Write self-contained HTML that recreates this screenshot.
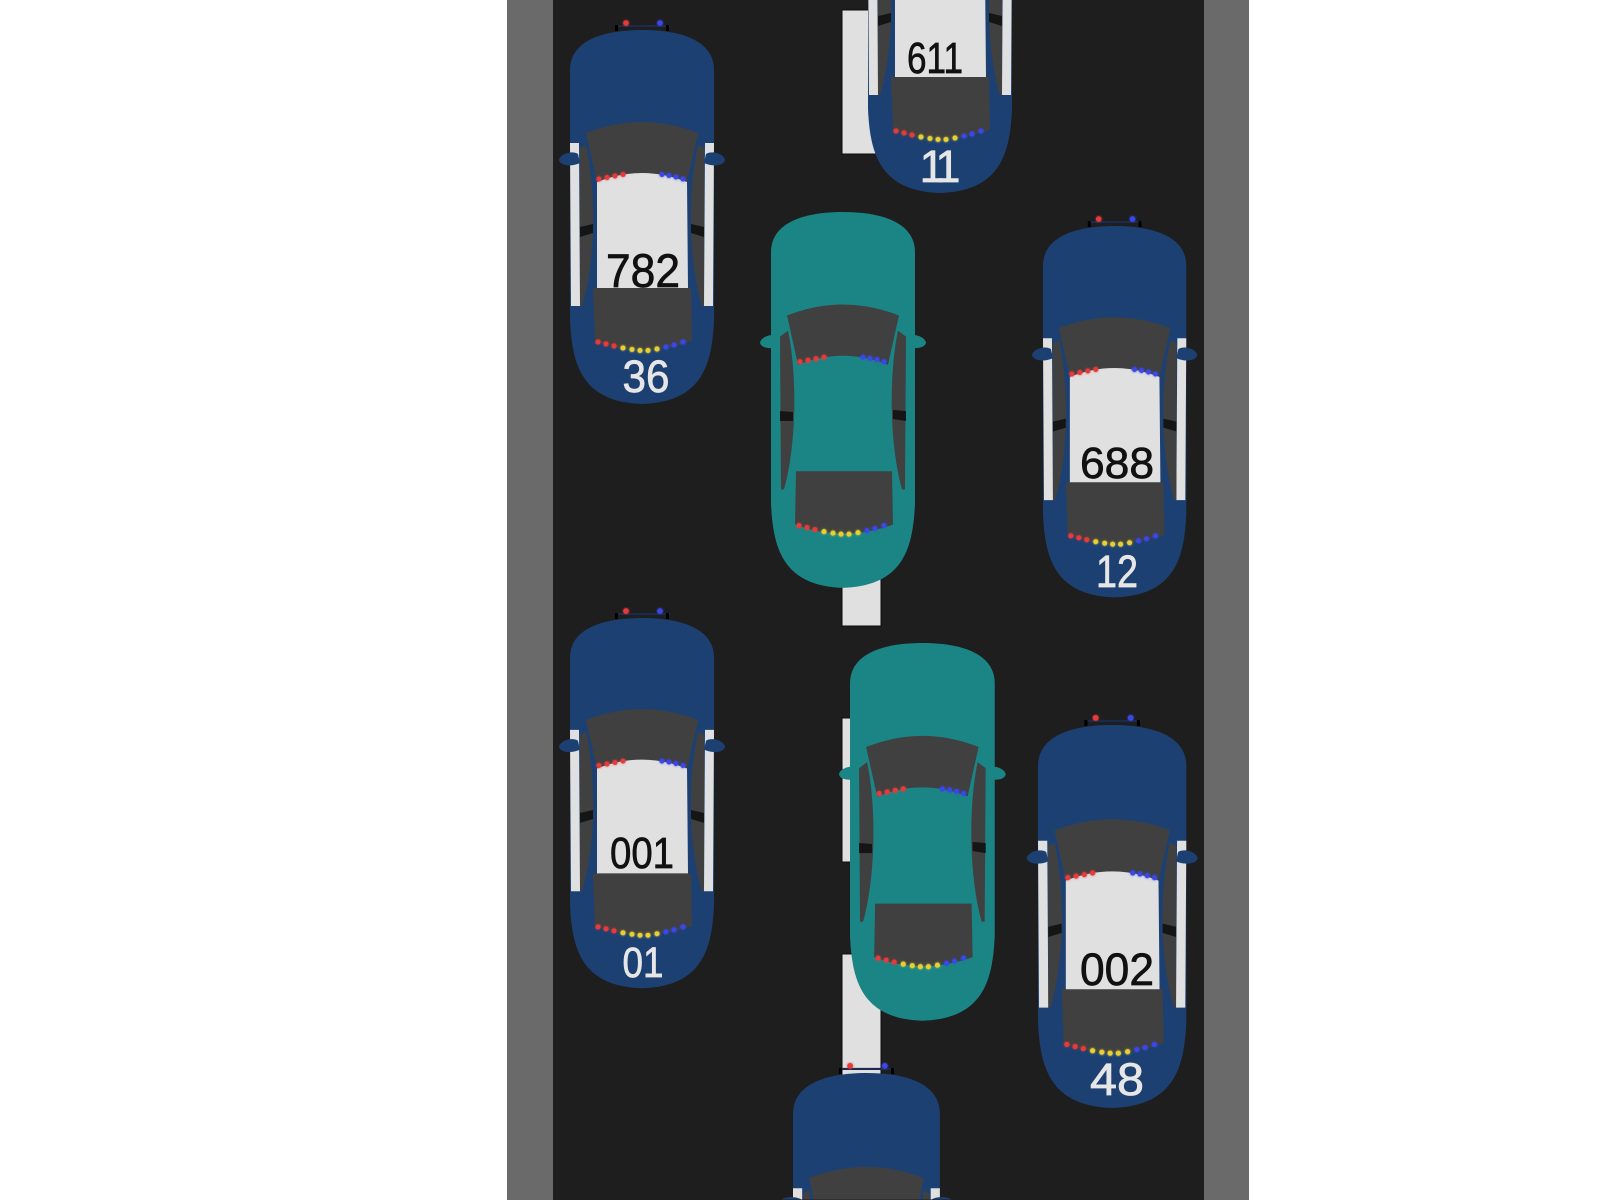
<!DOCTYPE html>
<html><head><meta charset="utf-8">
<style>
html,body{margin:0;padding:0;background:#fff;width:1600px;height:1200px;overflow:hidden;}
svg{display:block;overflow:hidden;}
text{font-family:"Liberation Sans","DejaVu Sans",sans-serif;}
</style></head>
<body>
<svg width="1600" height="1200" viewBox="0 0 1600 1200" xmlns="http://www.w3.org/2000/svg">
<defs>
  <filter id="glow" x="-20%" y="-20%" width="140%" height="140%">
    <feGaussianBlur stdDeviation="1.1" result="b"/>
    <feMerge><feMergeNode in="b"/><feMergeNode in="SourceGraphic"/></feMerge>
  </filter>
  <g id="lightsFront" filter="url(#glow)">
    <circle cx="29" cy="149" r="2.5" fill="#e53a3a"/>
    <circle cx="37" cy="147.5" r="2.5" fill="#e53a3a"/>
    <circle cx="45" cy="146" r="2.5" fill="#e53a3a"/>
    <circle cx="53" cy="144.5" r="2.5" fill="#e53a3a"/>
    <circle cx="92" cy="144.5" r="2.5" fill="#3a46e6"/>
    <circle cx="99" cy="145.5" r="2.5" fill="#3a46e6"/>
    <circle cx="106" cy="147" r="2.5" fill="#3a46e6"/>
    <circle cx="113" cy="149" r="2.5" fill="#3a46e6"/>
  </g>
  <g id="lightsRear" filter="url(#glow)">
    <circle cx="28" cy="312" r="2.5" fill="#e53a3a"/>
    <circle cx="36" cy="314" r="2.5" fill="#e53a3a"/>
    <circle cx="44" cy="316" r="2.5" fill="#e53a3a"/>
    <circle cx="53" cy="318" r="2.5" fill="#e8d030"/>
    <circle cx="62" cy="319.5" r="2.5" fill="#e8d030"/>
    <circle cx="70" cy="320.5" r="2.5" fill="#e8d030"/>
    <circle cx="78" cy="320.5" r="2.5" fill="#e8d030"/>
    <circle cx="87" cy="319" r="2.5" fill="#e8d030"/>
    <circle cx="96" cy="317" r="2.5" fill="#3a46e6"/>
    <circle cx="104" cy="315" r="2.5" fill="#3a46e6"/>
    <circle cx="113" cy="312" r="2.5" fill="#3a46e6"/>
  </g>
  <g id="lightbar">
    <line x1="45" y1="-4" x2="100" y2="-4" stroke="#1a2a50" stroke-width="2"/>
    <rect x="45" y="-5" width="3" height="6" fill="#000"/>
    <rect x="96" y="-5" width="3" height="6" fill="#000"/>
    <g filter="url(#glow)">
      <circle cx="56" cy="-7" r="2.8" fill="#e53a3a"/>
      <circle cx="90" cy="-7" r="2.8" fill="#3a46e6"/>
    </g>
  </g>
  <g id="police">
    <use href="#lightbar"/>
    <path d="M0,40 C0,12 30,0 72,0 C114,0 144,12 144,40 L144,290 C142,335 132,372 72,374 C12,372 2,335 0,290 Z" fill="#1d4072"/>
    <path d="M0,113 L9,113 L10,276 L1,276 Z" fill="#e0e0e0"/>
    <path d="M144,113 L135,113 L134,276 L143,276 Z" fill="#e0e0e0"/>
    <path d="M8,124 C2,120 -10,124 -11,130 C-10,136 2,137 10,133 Z" fill="#1d4072"/>
    <path d="M136,124 C142,120 154,124 155,130 C154,136 142,137 134,133 Z" fill="#1d4072"/>
    <path d="M10,118 L16,115 C26,160 26,230 12,276 L10,276 Z" fill="#404040"/>
    <path d="M134,118 L128,115 C118,160 118,230 132,276 L134,276 Z" fill="#404040"/>
    <path d="M10,197 L23,194 L23,203 L10,207 Z" fill="#151515"/>
    <path d="M134,197 L121,194 L121,203 L134,207 Z" fill="#151515"/>
    <path d="M16,103 Q72,81 128,103 L117,152 Q72,134 27,152 Z" fill="#404040"/>
    <path d="M23,258 L121,258 L122,311 Q72,329 25,311 Z" fill="#404040"/>
    <path d="M27,152 Q72,134 117,152 L118,258 L27,258 Z" fill="#e0e0e0"/>
    <use href="#lightsFront"/>
    <use href="#lightsRear"/>
  </g>
  <g id="teal">
    <path d="M0,40 C0,12 30,0 72,0 C114,0 144,12 144,40 L144,290 C142,335 132,372 72,374 C12,372 2,335 0,290 Z" fill="#1b8585"/>
    <path d="M8,124 C2,120 -10,124 -11,130 C-10,136 2,137 10,133 Z" fill="#1b8585"/>
    <path d="M136,124 C142,120 154,124 155,130 C154,136 142,137 134,133 Z" fill="#1b8585"/>
    <path d="M9,124 L17,118 C26,160 26,230 13,276 L10,276 Z" fill="#404040"/>
    <path d="M135,124 L127,118 C118,160 118,230 131,276 L134,276 Z" fill="#404040"/>
    <path d="M9,198 L22,199 L22,208 L9,208 Z" fill="#151515"/>
    <path d="M135,198 L122,197 L122,206 L135,208 Z" fill="#151515"/>
    <path d="M16,103 Q72,81 128,103 L117,152 Q72,134 27,152 Z" fill="#404040"/>
    <path d="M25,258 L121,258 L122,311 Q72,329 24,311 Z" fill="#404040"/>
    <use href="#lightsFront"/>
    <use href="#lightsRear"/>
  </g>
  <g id="policeTop">
    <use href="#lightbar"/>
    <path d="M0,40 C0,12 30,0 72,0 C114,0 144,12 144,40 L144,124 L0,124 Z" fill="#1d4072"/>
    <path d="M0,113 L9,113 L9,124 L0,124 Z" fill="#e0e0e0"/>
    <path d="M144,113 L135,113 L135,124 L144,124 Z" fill="#e0e0e0"/>
    <path d="M10,118 L16,115 L17,124 L10,124 Z" fill="#404040"/>
    <path d="M134,118 L128,115 L127,124 L134,124 Z" fill="#404040"/>
    <path d="M8,124 C2,120 -10,122 -11,124 Z" fill="#1d4072"/>
    <path d="M136,124 C142,120 154,122 155,124 Z" fill="#1d4072"/>
    <path d="M16,103 Q72,81 128,103 L124,124 L20,124 Z" fill="#404040"/>
  </g>
</defs>

<!-- road -->
<rect x="507" y="0" width="46" height="1200" fill="#6a6a6a"/>
<rect x="553" y="0" width="651" height="1200" fill="#1e1e1e"/>
<rect x="1204" y="0" width="45" height="1200" fill="#6a6a6a"/>

<!-- lane dashes -->
<g fill="#e0e0e0" stroke="#0c0c0c" stroke-width="1">
  <rect x="842" y="10" width="39" height="144"/>
  <rect x="842" y="246" width="39" height="144"/>
  <rect x="842" y="482" width="39" height="144"/>
  <rect x="842" y="718" width="39" height="144"/>
  <rect x="842" y="954" width="39" height="144"/>
</g>

<!-- cars -->
<use href="#police" transform="translate(868,-181)"/>
<use href="#police" transform="translate(570,30)"/>
<use href="#teal" transform="translate(771,212) scale(1,1.005)"/>
<use href="#police" transform="translate(1043,226) scale(0.995,0.993)"/>
<use href="#police" transform="translate(570,618) scale(1,0.99)"/>
<use href="#teal" transform="translate(850,643) scale(1.005,1.01)"/>
<use href="#police" transform="translate(1038,725) scale(1.03,1.024)"/>
<use href="#policeTop" transform="translate(793,1073) scale(1.02,1.02)"/>

<!-- numbers -->
<g text-anchor="middle" stroke-width="0.7">
  <text x="935" y="73" font-size="44" fill="#111" stroke="#111" textLength="56" lengthAdjust="spacingAndGlyphs">611</text>
  <text x="937" y="182" font-size="45" fill="#e6e6e6" stroke="#e6e6e6" letter-spacing="-6">11</text>
  <text x="643" y="287" font-size="47" fill="#111" stroke="#111" textLength="74" lengthAdjust="spacingAndGlyphs">782</text>
  <text x="646" y="392" font-size="45" fill="#e6e6e6" stroke="#e6e6e6" textLength="47" lengthAdjust="spacingAndGlyphs">36</text>
  <text x="1117" y="478" font-size="44" fill="#111" stroke="#111" textLength="74" lengthAdjust="spacingAndGlyphs">688</text>
  <text x="1117" y="587" font-size="45" fill="#e6e6e6" stroke="#e6e6e6" textLength="42" lengthAdjust="spacingAndGlyphs">12</text>
  <text x="642" y="868" font-size="44" fill="#111" stroke="#111" textLength="64" lengthAdjust="spacingAndGlyphs">001</text>
  <text x="643" y="977" font-size="43" fill="#e6e6e6" stroke="#e6e6e6" textLength="41" lengthAdjust="spacingAndGlyphs">01</text>
  <text x="1117" y="985" font-size="45" fill="#111" stroke="#111" textLength="74" lengthAdjust="spacingAndGlyphs">002</text>
  <text x="1117" y="1095" font-size="45" fill="#e6e6e6" stroke="#e6e6e6" textLength="54" lengthAdjust="spacingAndGlyphs">48</text>
</g>
</svg>
</body></html>
